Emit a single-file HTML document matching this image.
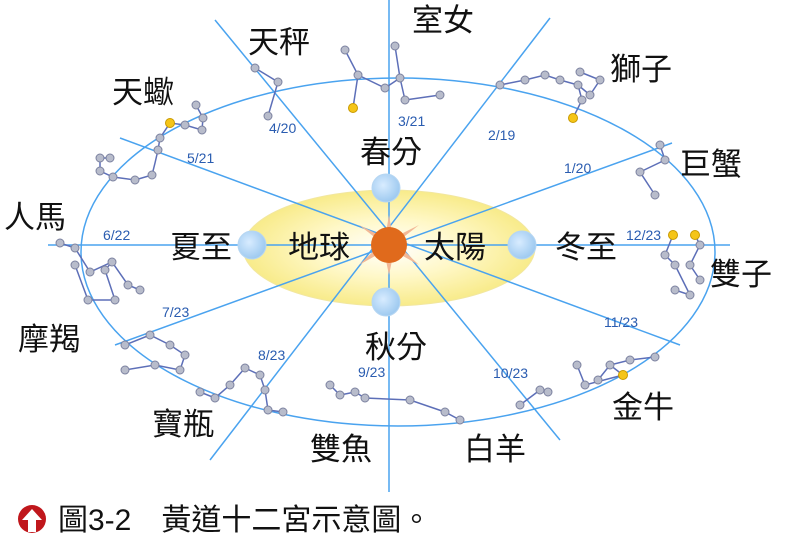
<!DOCTYPE html>
<html><head><meta charset="utf-8"><style>
html,body{margin:0;padding:0;background:#fff;width:800px;height:538px;overflow:hidden}
svg{display:block}
.t{font-family:"Liberation Sans","Noto Sans CJK TC",sans-serif;fill:#111;font-size:31px}
.d{font-family:"Liberation Sans",sans-serif;fill:#2a5cb0;font-size:14px}
.c{fill:none;stroke:#5d6fb8;stroke-width:1.5}
</style></head><body>
<svg width="800" height="538" viewBox="0 0 800 538">
<defs>
<radialGradient id="y" cx="50%" cy="50%" r="50%">
<stop offset="0" stop-color="#ffffff"/><stop offset="0.5" stop-color="#fff8c8"/><stop offset="1" stop-color="#f8eb8a"/></radialGradient>
<radialGradient id="b" cx="40%" cy="40%" r="60%"><stop offset="0" stop-color="#d8ecff"/><stop offset="1" stop-color="#9fcaf0"/></radialGradient>
</defs>
<ellipse cx="389" cy="248" rx="146" ry="58" fill="url(#y)" stroke="#f2e7a0"/>
<ellipse cx="398" cy="252" rx="317" ry="174" fill="none" stroke="#4aa3ef" stroke-width="1.5"/>
<g stroke="#4aa3ef" stroke-width="1.5">
<line x1="389" y1="0" x2="389" y2="492"/>
<line x1="48" y1="245" x2="730" y2="245"/>
<line x1="215" y1="20" x2="560" y2="440"/>
<line x1="550" y1="18" x2="210" y2="460"/>
<line x1="120" y1="138" x2="680" y2="345"/>
<line x1="672" y1="143" x2="115" y2="345"/>
</g>
<g fill="#f2b896">
<polygon points="389,215 393,238 419,225 396,243 419,265 394,251 389,275 384,251 359,265 382,243 359,225 385,238"/>
</g>
<circle cx="389" cy="245" r="18" fill="#e06a1c"/>
<g fill="url(#b)" stroke="#b6d6f2">
<circle cx="386" cy="188" r="14"/><circle cx="252" cy="245" r="14"/><circle cx="522" cy="245" r="14"/><circle cx="386" cy="302" r="14"/>
</g>
<g class="c">
<polyline points="196,105 203,118 202,130 185,125 170,123 160,138 158,150 155,163 152,175 135,180 113,177 100,171 100,158 110,158"/>
<polyline points="255,68 278,82 268,116"/>
<polyline points="345,50 358,75 353,108"/><polyline points="358,75 385,88 400,78 405,100"/><polyline points="400,78 395,46"/><polyline points="405,100 440,95"/>
<polyline points="500,85 525,80 545,75 560,80 578,85 582,100 573,118"/><polyline points="578,85 590,95 600,80 580,72"/>
<polyline points="660,145 665,160 640,172 655,195"/>
<polyline points="673,235 665,255 675,265 690,295 675,290"/><polyline points="695,235 700,245 690,265 700,280"/>
<polyline points="655,357 630,360 610,365 598,380"/><polyline points="610,365 623,375 585,385 577,365"/>
<polyline points="520,405 540,390 548,392"/>
<polyline points="330,385 340,395 355,392 365,398 410,400 445,412 460,420"/>
<polyline points="245,368 260,375 265,390 268,410 283,412"/><polyline points="245,368 230,385 215,398 200,392"/>
<polyline points="125,345 150,335 170,345 185,355 180,370 155,365 125,370"/>
<polyline points="60,243 75,248 90,272 112,262 128,285 140,290"/><polyline points="112,262 105,270 115,300 88,300 75,265"/>
</g>
<g fill="#b8bccb" stroke="#7c82a0" stroke-width="1">
<circle cx="196" cy="105" r="4"/><circle cx="203" cy="118" r="4"/><circle cx="202" cy="130" r="4"/><circle cx="185" cy="125" r="4"/><circle cx="160" cy="138" r="4"/><circle cx="158" cy="150" r="4"/><circle cx="152" cy="175" r="4"/><circle cx="135" cy="180" r="4"/><circle cx="113" cy="177" r="4"/><circle cx="100" cy="171" r="4"/><circle cx="100" cy="158" r="4"/><circle cx="110" cy="158" r="4"/>
<circle cx="255" cy="68" r="4"/><circle cx="278" cy="82" r="4"/><circle cx="268" cy="116" r="4"/>
<circle cx="345" cy="50" r="4"/><circle cx="358" cy="75" r="4"/><circle cx="385" cy="88" r="4"/><circle cx="400" cy="78" r="4"/><circle cx="405" cy="100" r="4"/><circle cx="395" cy="46" r="4"/><circle cx="440" cy="95" r="4"/>
<circle cx="500" cy="85" r="4"/><circle cx="525" cy="80" r="4"/><circle cx="545" cy="75" r="4"/><circle cx="560" cy="80" r="4"/><circle cx="578" cy="85" r="4"/><circle cx="582" cy="100" r="4"/><circle cx="590" cy="95" r="4"/><circle cx="600" cy="80" r="4"/><circle cx="580" cy="72" r="4"/>
<circle cx="660" cy="145" r="4"/><circle cx="665" cy="160" r="4"/><circle cx="640" cy="172" r="4"/><circle cx="655" cy="195" r="4"/>
<circle cx="665" cy="255" r="4"/><circle cx="675" cy="265" r="4"/><circle cx="690" cy="295" r="4"/><circle cx="675" cy="290" r="4"/><circle cx="700" cy="245" r="4"/><circle cx="690" cy="265" r="4"/><circle cx="700" cy="280" r="4"/>
<circle cx="655" cy="357" r="4"/><circle cx="630" cy="360" r="4"/><circle cx="610" cy="365" r="4"/><circle cx="598" cy="380" r="4"/><circle cx="585" cy="385" r="4"/><circle cx="577" cy="365" r="4"/>
<circle cx="520" cy="405" r="4"/><circle cx="540" cy="390" r="4"/><circle cx="548" cy="392" r="4"/>
<circle cx="330" cy="385" r="4"/><circle cx="340" cy="395" r="4"/><circle cx="355" cy="392" r="4"/><circle cx="365" cy="398" r="4"/><circle cx="410" cy="400" r="4"/><circle cx="445" cy="412" r="4"/><circle cx="460" cy="420" r="4"/>
<circle cx="245" cy="368" r="4"/><circle cx="260" cy="375" r="4"/><circle cx="265" cy="390" r="4"/><circle cx="268" cy="410" r="4"/><circle cx="283" cy="412" r="4"/><circle cx="230" cy="385" r="4"/><circle cx="215" cy="398" r="4"/><circle cx="200" cy="392" r="4"/>
<circle cx="125" cy="345" r="4"/><circle cx="150" cy="335" r="4"/><circle cx="170" cy="345" r="4"/><circle cx="185" cy="355" r="4"/><circle cx="180" cy="370" r="4"/><circle cx="155" cy="365" r="4"/><circle cx="125" cy="370" r="4"/>
<circle cx="60" cy="243" r="4"/><circle cx="75" cy="248" r="4"/><circle cx="90" cy="272" r="4"/><circle cx="112" cy="262" r="4"/><circle cx="128" cy="285" r="4"/><circle cx="140" cy="290" r="4"/><circle cx="105" cy="270" r="4"/><circle cx="115" cy="300" r="4"/><circle cx="88" cy="300" r="4"/><circle cx="75" cy="265" r="4"/>
</g>
<g fill="#f5c518" stroke="#c99a00">
<circle cx="170" cy="123" r="4.5"/><circle cx="353" cy="108" r="4.5"/><circle cx="573" cy="118" r="4.5"/><circle cx="673" cy="235" r="4.5"/><circle cx="695" cy="235" r="4.5"/><circle cx="623" cy="375" r="4.5"/>
</g>
<g class="t">
<text x="248" y="53">天秤</text><text x="412" y="31">室女</text><text x="610" y="80">獅子</text>
<text x="112" y="103">天蠍</text><text x="680" y="175">巨蟹</text>
<text x="4" y="228">人馬</text><text x="710" y="285">雙子</text>
<text x="18" y="350">摩羯</text><text x="612" y="418">金牛</text>
<text x="152" y="435">寶瓶</text><text x="310" y="460">雙魚</text><text x="464" y="460">白羊</text>
<text x="360" y="163">春分</text><text x="365" y="358">秋分</text>
<text x="170" y="258">夏至</text><text x="555" y="258">冬至</text>
<text x="288" y="258">地球</text><text x="424" y="258">太陽</text>
</g>
<g class="d">
<text x="269" y="133">4/20</text><text x="398" y="126">3/21</text><text x="488" y="140">2/19</text>
<text x="187" y="163">5/21</text><text x="564" y="173">1/20</text>
<text x="103" y="240">6/22</text><text x="626" y="240">12/23</text>
<text x="162" y="317">7/23</text><text x="604" y="327">11/23</text>
<text x="258" y="360">8/23</text><text x="358" y="377">9/23</text><text x="493" y="378">10/23</text>
</g>
<circle cx="32" cy="519" r="14" fill="#c0171c"/>
<polygon points="32,509 42,520 36,520 36,532 28,532 28,520 22,520" fill="#fff"/>
<text x="58" y="530" class="t" style="font-size:30px">圖3-2　黃道十二宮示意圖。</text>
</svg>
</body></html>
